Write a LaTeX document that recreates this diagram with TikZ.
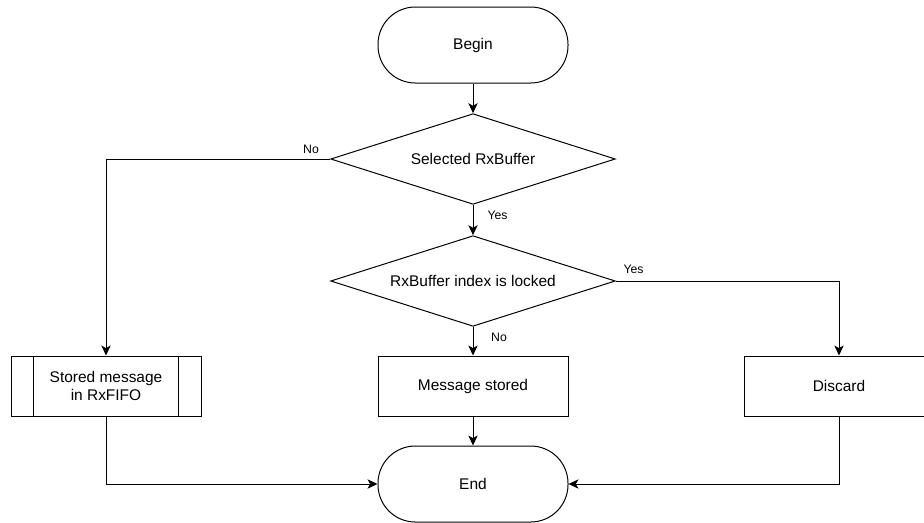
\documentclass[tikz,border=0pt]{standalone}
\usepackage{fontspec}
\setmainfont{Liberation Sans}
\usetikzlibrary{shapes.geometric,arrows.meta}
\begin{document}
\begin{tikzpicture}[x=0.75pt,y=-0.75pt,line width=0.75pt,
  every node/.style={font=\fontsize{11.6pt}{13.5pt}\selectfont},
  term/.style={draw, rectangle, rounded corners=28pt, minimum width=142.5pt, minimum height=57pt},
  dec/.style={draw, diamond, aspect=3.1, inner sep=0pt, minimum width=213.5pt, minimum height=68pt},
  proc/.style={draw, rectangle, minimum width=142.5pt, minimum height=45pt, align=center},
  lbl/.style={font=\fontsize{9.2pt}{11pt}\selectfont, inner sep=0pt},
  conn/.style={-{Stealth[length=7.5pt,width=7pt,inset=2pt]}}
]
\useasboundingbox (0,0) rectangle (924,522);

\node[term] (begin) at (473,45) {Begin};
\node[dec] (d1) at (473,159) {Selected RxBuffer};
\node[dec] (d2) at (473,281) {RxBuffer index is locked};
\node[proc] (lb) at (106,386) {Stored message\\in RxFIFO};
\draw ([xshift=17.25pt]lb.north west) -- ([xshift=17.25pt]lb.south west);
\draw ([xshift=-17.25pt]lb.north east) -- ([xshift=-17.25pt]lb.south east);
\node[proc] (ms) at (473,386) {Message stored};
\node[proc] (dis) at (839,386) {Discard};
\node[term] (end) at (473,484) {End};

\node[lbl] (l1) at (311,149) {No};
\node[lbl] (l2) at (497.5,215) {Yes};
\node[lbl] (l3) at (633.5,269) {Yes};
\node[lbl] (l4) at (499,337) {No};

\draw[conn] (begin.south) -- (d1.north);
\draw[conn] (d1.south) -- (d2.north);
\draw[conn] (d1.west) -| (lb.north);
\draw[conn] (d2.east) -| (dis.north);
\draw[conn] (d2.south) -- (ms.north);
\draw[conn] (ms.south) -- (end.north);
\draw[conn] (lb.south) |- (end.west);
\draw[conn] (dis.south) |- (end.east);
\end{tikzpicture}
\end{document}
